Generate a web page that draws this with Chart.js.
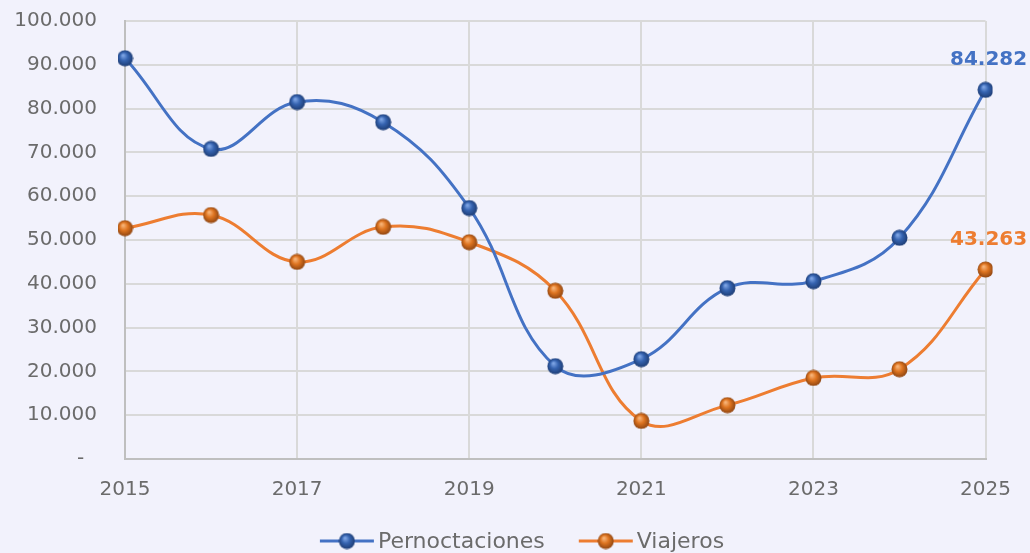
<!DOCTYPE html>
<html>
<head>
<meta charset="utf-8">
<script src="https://cdn.jsdelivr.net/npm/chart.js@4.4.1/dist/chart.umd.min.js"></script>
<style>
  html, body { margin: 0; padding: 0; background: #f2f2fc; }
  #wrap { width: 1030px; height: 553px; }
</style>
</head>
<body>
<div id="wrap"><canvas id="myChart" width="1030" height="553"></canvas></div>
<script>
const years = ['2015', '2016', '2017', '2018', '2019', '2020', '2021', '2022', '2023', '2024', '2025'];
const pernoctaciones = [91500, 70800, 81500, 76900, 57300, 21200, 22800, 39000, 40600, 50500, 84282];
const viajeros = [52700, 55700, 45000, 53000, 49500, 38400, 8700, 12300, 18500, 20500, 43263];
const yTicks = [0, 10000, 20000, 30000, 40000, 50000, 60000, 70000, 80000, 90000, 100000];

const FONT = '"DejaVu Sans", sans-serif';
const GREY = '#6b6b6b';

// little 3D-looking balls for the markers
function makeBall(light, base, dark) {
    const c = document.createElement('canvas');
    c.width = 17; c.height = 17;
    const g = c.getContext('2d');
    const grad = g.createRadialGradient(6.5, 5.5, 0.5, 8.5, 8.5, 8.5);
    grad.addColorStop(0, light);
    grad.addColorStop(0.45, base);
    grad.addColorStop(1, dark);
    g.fillStyle = grad;
    g.beginPath();
    g.arc(8.5, 8.5, 8, 0, Math.PI * 2);
    g.fill();
    return c;
}

const blueBall = makeBall('#7fa6e6', '#3563b0', '#1c3a70');
const orangeBall = makeBall('#f8b57a', '#de7420', '#8a4210');

const bgPlugin = {
    id: 'bg',
    beforeDraw(chart) {
        const ctx = chart.ctx;
        ctx.save();
        ctx.fillStyle = '#f2f2fc';
        ctx.fillRect(0, 0, chart.width, chart.height);
        ctx.restore();
    }
};

// value label above the last point of each series
const lastLabel = {
    id: 'lastLabel',
    afterDatasetsDraw(chart) {
        const ctx = chart.ctx;
        chart.data.datasets.forEach((ds, i) => {
            const meta = chart.getDatasetMeta(i);
            const pt = meta.data[meta.data.length - 1];
            const v = ds.data[ds.data.length - 1];
            ctx.save();
            ctx.font = 'bold 20px ' + FONT;
            ctx.fillStyle = ds.borderColor;
            ctx.textAlign = 'center';
            ctx.textBaseline = 'middle';
            ctx.fillText(v.toLocaleString('de-DE'), pt.x + 3, pt.y - 30);
            ctx.restore();
        });
    }
};

// legend like excel: line with marker in the middle, then the name
const lineLegend = {
    id: 'lineLegend',
    afterDraw(chart) {
        const ctx = chart.ctx;
        const y = 541;
        const iconW = 54, gapText = 4, gapItem = 34;
        ctx.save();
        ctx.font = '22px ' + FONT;
        const items = chart.data.datasets.map(ds => ({ ds, w: ctx.measureText(ds.label).width }));
        let total = 0;
        items.forEach((it, i) => { total += iconW + gapText + it.w + (i ? gapItem : 0); });
        let x = 522 - total / 2;
        items.forEach(it => {
            ctx.strokeStyle = it.ds.borderColor;
            ctx.lineWidth = 3;
            ctx.beginPath();
            ctx.moveTo(x, y); ctx.lineTo(x + iconW, y);
            ctx.stroke();
            ctx.drawImage(it.ds.pointStyle, x + iconW / 2 - 8.5, y - 8.5);
            ctx.fillStyle = GREY;
            ctx.textBaseline = 'middle';
            ctx.textAlign = 'left';
            ctx.fillText(it.ds.label, x + iconW + gapText, y + 1);
            x += iconW + gapText + it.w + gapItem;
        });
        ctx.restore();
    }
};

const data = {
    labels: years,
    datasets: [
        {
            label: 'Pernoctaciones',
            data: pernoctaciones,
            borderColor: '#4472c4',
            borderWidth: 3,
            pointStyle: blueBall,
            tension: 0.4
        },
        {
            label: 'Viajeros',
            data: viajeros,
            borderColor: '#ed7d31',
            borderWidth: 3,
            pointStyle: orangeBall,
            tension: 0.4
        }
    ]
};

const config = {
    type: 'line',
    data: data,
    options: {
        responsive: false,
        animation: false,
        layout: { padding: { top: 21, right: 44, left: 0, bottom: 49 } },
        plugins: {
            legend: { display: false },
            tooltip: { enabled: false }
        },
        scales: {
            x: {
                offset: false,
                afterFit: (axis) => { axis.height = 45; },
                grid: {
                    color: (c) => c.index % 2 === 0 ? '#d9d9d9' : 'rgba(0,0,0,0)',
                    lineWidth: 2,
                    drawTicks: false
                },
                border: { color: '#bfbfbf', width: 2 },
                ticks: {
                    autoSkip: false,
                    maxRotation: 0,
                    padding: 19,
                    color: GREY,
                    font: { family: FONT, size: 20 },
                    callback: (v, i) => i % 2 === 0 ? years[i] : ''
                }
            },
            y: {
                min: 0,
                max: 100000,
                afterBuildTicks: (axis) => { axis.ticks = yTicks.map(v => ({ value: v })); },
                afterFit: (axis) => { axis.width = 125; },
                grid: {
                    color: '#d9d9d9',
                    lineWidth: 2,
                    drawTicks: true,
                    tickLength: 28,
                    tickColor: 'rgba(0,0,0,0)'
                },
                border: { color: '#bfbfbf', width: 2 },
                ticks: {
                    padding: 0,
                    color: GREY,
                    font: { family: FONT, size: 20 },
                    callback: (v) => v === 0 ? '-  ' : v.toLocaleString('de-DE')
                }
            }
        }
    },
    plugins: [bgPlugin, lastLabel, lineLegend]
};

const ctx = document.getElementById('myChart').getContext('2d');
new Chart(ctx, config);
</script>
</body>
</html>
